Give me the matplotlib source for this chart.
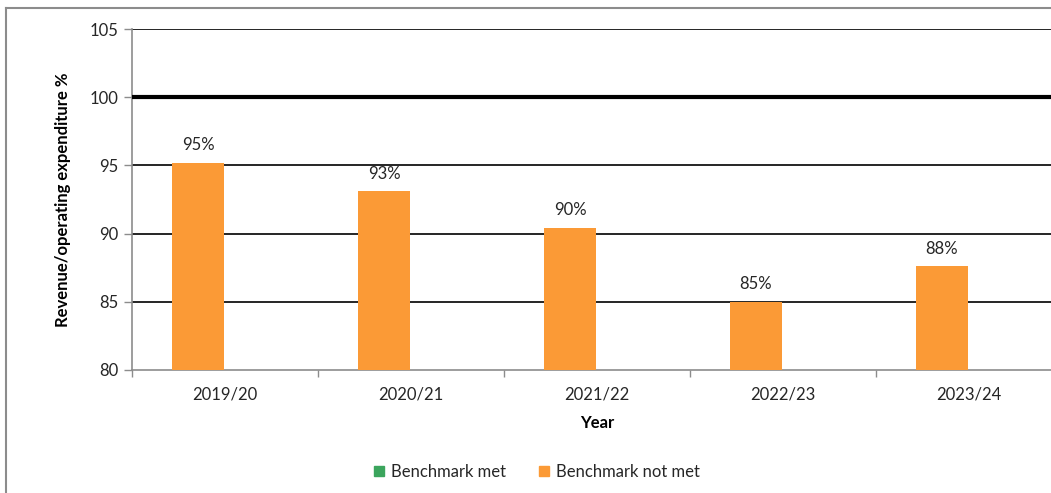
import matplotlib
matplotlib.use("Agg")
import matplotlib.pyplot as plt
from matplotlib.lines import Line2D
from matplotlib.patches import Patch
import numpy as np

plt.rcParams['font.family'] = ['Lato', 'DejaVu Sans']

years = ["2019/20", "2020/21", "2021/22", "2022/23", "2023/24"]
not_met = [95.2, 93.1, 90.4, 85.0, 87.6]
met = [np.nan, np.nan, np.nan, np.nan, np.nan]
value_labels = ["95%", "93%", "90%", "85%", "88%"]
y_ticks = [80, 85, 90, 95, 100, 105]
benchmark = 100

orange = "#FB9A36"
green = "#3BA55D"
grey = "#8C8C8C"
text_col = "#262626"
fs = 12

W, H = 1051, 493
fig = plt.figure(figsize=(W / 100, H / 100), dpi=100)
ax = fig.add_axes([132 / W, 1 - 370 / H, 930 / W, 341 / H])

x = np.arange(len(years))
bw = 0.28
ax.bar(x - bw / 2 - 0.005, not_met, width=bw, bottom=0, color=orange, zorder=3)
ax.bar(x + bw / 2, met, width=bw, color=green, zorder=3)

for xi, v, lab in zip(x, not_met, value_labels):
    ax.annotate(lab, (xi - bw / 2 - 0.005, v), xytext=(0, 7), textcoords="offset points",
                ha="center", va="bottom", fontsize=fs, color=text_col)

ax.set_ylim(80, 105)
ax.set_xlim(-0.5, len(years) - 0.5)

# horizontal gridlines and the benchmark line
for t in y_ticks[1:]:
    if t == benchmark:
        ax.axhline(t, color="black", lw=3.0, zorder=4)
    else:
        ax.axhline(t, color="black", lw=1.2, zorder=2)

ax.set_yticks(y_ticks)
ax.set_yticklabels([str(t) for t in y_ticks], fontsize=fs, color=text_col)
ax.tick_params(axis="y", direction="out", length=6, width=1, color=grey, pad=4)

ax.set_xticks(x)
ax.set_xticklabels(years, fontsize=fs, color=text_col)
ax.set_xticks(np.arange(-0.5, len(years)), minor=True)
ax.tick_params(axis="x", which="major", length=0, pad=12)
ax.tick_params(axis="x", which="minor", direction="out", length=5, width=1, color=grey)

for s in ["top", "right"]:
    ax.spines[s].set_visible(False)
for s in ["left", "bottom"]:
    ax.spines[s].set_color(grey)
    ax.spines[s].set_linewidth(1.2)

ax.set_ylabel("Revenue/operating expenditure %", fontsize=fs, fontweight="bold",
              color="black", labelpad=13)
ax.set_xlabel("Year", fontsize=fs, fontweight="bold", color="black", labelpad=9)

handles = [Patch(color=green, label="Benchmark met"),
           Patch(color=orange, label="Benchmark not met")]
fig.legend(handles=handles, loc="center", bbox_to_anchor=(537 / W, 1 - 472 / H),
           ncol=2, frameon=False, fontsize=fs, handlelength=0.6, handleheight=0.6,
           handletextpad=0.4, columnspacing=2.0, labelcolor=text_col)

# chart frame
fig.add_artist(Line2D([6 / W, 6 / W], [0, 1 - 8 / H], color=grey, lw=1.5,
                      transform=fig.transFigure))
fig.add_artist(Line2D([6 / W, 1], [1 - 8 / H, 1 - 8 / H], color=grey, lw=1.5,
                      transform=fig.transFigure))

fig.savefig("out.png", dpi=100)
